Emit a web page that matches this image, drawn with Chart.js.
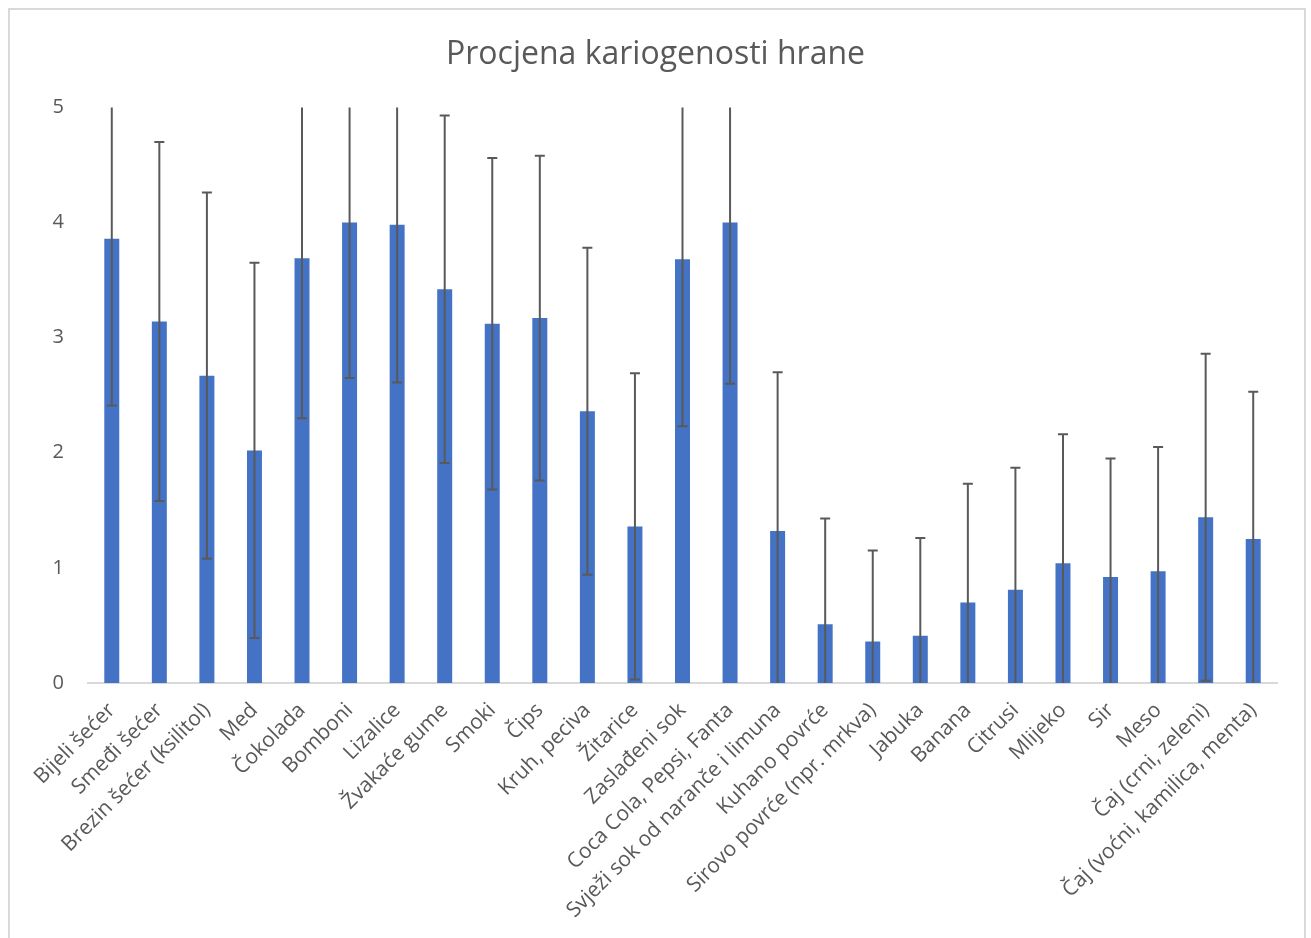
<!DOCTYPE html>
<html>
<head>
<meta charset="utf-8">
<title>Procjena kariogenosti hrane</title>
<script src="https://cdn.jsdelivr.net/npm/chart.js@4.4.1/dist/chart.umd.min.js"></script>
<style>
	body { margin: 0; background: #fff; }
	#frame { position: absolute; left: 8px; top: 8px; width: 1294px; height: 960px; border: 2px solid #d9d9d9; }
	#chart { position: absolute; left: 0; top: 0; }
</style>
</head>
<body>
<div id="frame"></div>
<canvas id="chart" width="1311" height="938"></canvas>
<script>
var labels = [
	"Bijeli šećer", "Smeđi šećer", "Brezin šećer (ksilitol)", "Med", "Čokolada",
	"Bomboni", "Lizalice", "Žvakaće gume", "Smoki", "Čips",
	"Kruh, peciva", "Žitarice", "Zaslađeni sok", "Coca Cola, Pepsi, Fanta", "Svježi sok od naranče i limuna",
	"Kuhano povrće", "Sirovo povrće (npr. mrkva)", "Jabuka", "Banana", "Citrusi",
	"Mlijeko", "Sir", "Meso", "Čaj (crni, zeleni)", "Čaj (voćni, kamilica, menta)"
];
var values = [3.86, 3.14, 2.67, 2.02, 3.69, 4.00, 3.98, 3.42, 3.12, 3.17, 2.36, 1.36, 3.68, 4.00, 1.32, 0.51, 0.36, 0.41, 0.70, 0.81, 1.04, 0.92, 0.97, 1.44, 1.25];
var errors = [1.45, 1.56, 1.59, 1.63, 1.39, 1.35, 1.37, 1.51, 1.44, 1.41, 1.42, 1.33, 1.45, 1.40, 1.38, 0.92, 0.79, 0.85, 1.03, 1.06, 1.12, 1.03, 1.08, 1.42, 1.28];
var yTicks = [0, 1, 2, 3, 4, 5];

var textColor = "#595959";
var fontFamily = "'Open Sans', 'Noto Sans', sans-serif";

/* error bars, drawn through the scales and clipped to the plot area */
var errorBars = {
	id: 'errorBars',
	afterDatasetsDraw: function (chart) {
		var ctx = chart.ctx;
		var area = chart.chartArea;
		var y = chart.scales.y;
		var meta = chart.getDatasetMeta(0);
		ctx.save();
		ctx.beginPath();
		ctx.rect(area.left, area.top, area.right - area.left, area.bottom - area.top);
		ctx.clip();
		ctx.strokeStyle = "#595959";
		ctx.lineWidth = 2;
		meta.data.forEach(function (bar, i) {
			var x = bar.x;
			var hi = y.getPixelForValue(values[i] + errors[i]);
			var lo = y.getPixelForValue(values[i] - errors[i]);
			ctx.beginPath();
			ctx.moveTo(x, hi);
			ctx.lineTo(x, lo);
			ctx.moveTo(x - 5, hi);
			ctx.lineTo(x + 5, hi);
			ctx.moveTo(x - 5, lo);
			ctx.lineTo(x + 5, lo);
			ctx.stroke();
		});
		ctx.restore();
	}
};

var ctx = document.getElementById('chart').getContext('2d');
new Chart(ctx, {
	type: 'bar',
	data: {
		labels: labels,
		datasets: [{
			label: 'Procjena',
			data: values,
			backgroundColor: "#4472C4",
			barPercentage: 0.315,
			categoryPercentage: 1
		}]
	},
	options: {
		responsive: false,
		animation: false,
		layout: {
			padding: { left: 34, right: 34, top: 9, bottom: 0 }
		},
		plugins: {
			legend: { display: false },
			tooltip: { enabled: false },
			title: {
				display: true,
				text: 'Procjena kariogenosti hrane',
				color: textColor,
				font: { family: fontFamily, size: 32, weight: 'normal' },
				padding: { top: 27, bottom: 33 }
			}
		},
		scales: {
			x: {
				grid: { display: false },
				border: { display: true, color: "#d9d9d9", width: 2 },
				ticks: {
					color: textColor,
					font: { family: fontFamily, size: 21 },
					minRotation: 45,
					maxRotation: 45,
					autoSkip: false,
					padding: 7
				},
				afterFit: function (scale) { scale.height = 255; }
			},
			y: {
				min: 0,
				max: 5,
				grid: { display: false, drawTicks: false },
				border: { display: false },
				afterBuildTicks: function (scale) {
					scale.ticks = yTicks.map(function (v) { return { value: v }; });
				},
				ticks: {
					color: textColor,
					font: { family: fontFamily, size: 20 },
					padding: 24
				},
				afterFit: function (scale) { scale.width = 54; }
			}
		}
	},
	plugins: [errorBars]
});
</script>
</body>
</html>
